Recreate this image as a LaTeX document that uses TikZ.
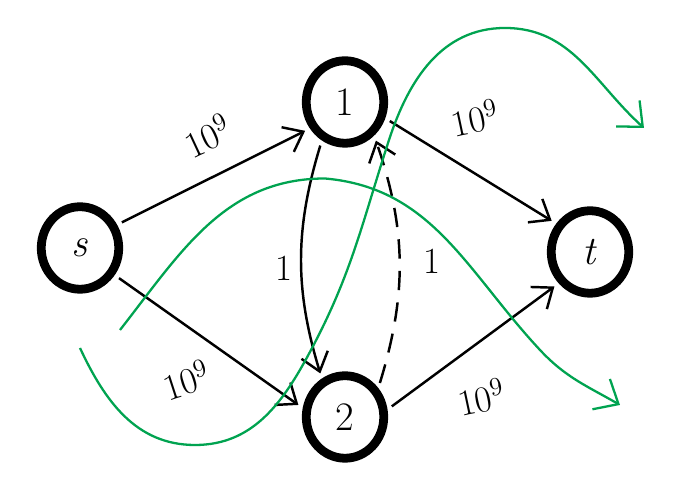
\documentclass[tikz,border=0pt]{standalone}
\usepackage{fontspec}
\usetikzlibrary{arrows.meta,shapes.geometric}

\definecolor{flowgreen}{RGB}{0,163,80}

\tikzset{
    vtx/.style={draw, ellipse, line width=5pt, minimum width=1.55cm, minimum height=1.65cm, inner sep=1pt, font=\fontsize{23}{27}\selectfont},
    flowedge/.style={-{Straight Barb[length=3.5mm,width=5.5mm]}, line width=1.4pt, shorten <=3pt, shorten >=3pt},
    wt/.style={font=\fontsize{21}{25}\selectfont, inner sep=0pt},
    greenpath/.style={flowgreen, line width=1.3pt, -{Straight Barb[length=4mm,width=7mm]}},
}

\begin{document}
\begin{tikzpicture}
    \useasboundingbox (0,0) rectangle (13.48,10);

    \node[vtx] (s) at (1.6, 5.04) {\textit{s}};
    \node[vtx] (n1) at (6.9, 7.96) {1};
    \node[vtx] (n2) at (6.9, 1.66) {2};
    \node[vtx] (t) at (11.8, 4.96) {\textit{t}};

    \draw[flowedge] (s.32) -- node[wt, xshift=-0.12cm, yshift=0.82cm, rotate=25] {10\textsuperscript{9}} (n1.217);
    \draw[flowedge] (s.-38) -- node[wt, xshift=-0.44cm, yshift=-0.76cm, rotate=18] {10\textsuperscript{9}} (n2.168);
    \draw[flowedge] (n1.-22) -- node[wt, xshift=0.08cm, yshift=1.06cm, rotate=12] {10\textsuperscript{9}} (t.140);
    \draw[flowedge] (n2.10) -- node[wt, xshift=0.16cm, yshift=-1.02cm, rotate=12] {10\textsuperscript{9}} (t.225);
    \draw[flowedge] (n1.239) to[bend right=17] node[wt, xshift=-0.36cm, yshift=-0.18cm] {1} (n2.121);
    \draw[flowedge, dash pattern=on 11pt off 7pt] (n2.41) to[bend right=18] node[wt, xshift=0.66cm] {1} (n1.-49);

    % the two cuts
    \coordinate (a0) at (1.6, 3.04);
    \coordinate (a1) at (12.88, 7.44);
    \coordinate (b0) at (2.4, 3.4);
    \coordinate (b1) at (12.4, 1.9);
    \draw[greenpath] (a0) to[out=-65, in=180] (3.9,1.1) to[out=0, in=-118] (6.22,3.0)
        to[out=62, in=-108] (7.78,7.2) to[out=72, in=180] (10.1,9.44) to[out=0, in=138] (a1);
    \draw[greenpath] (b0) to[out=52, in=180] (6.5,6.43) to[out=-5, in=133] (10.8,3.0)
        to[out=-47, in=150] (b1);
\end{tikzpicture}
\end{document}
